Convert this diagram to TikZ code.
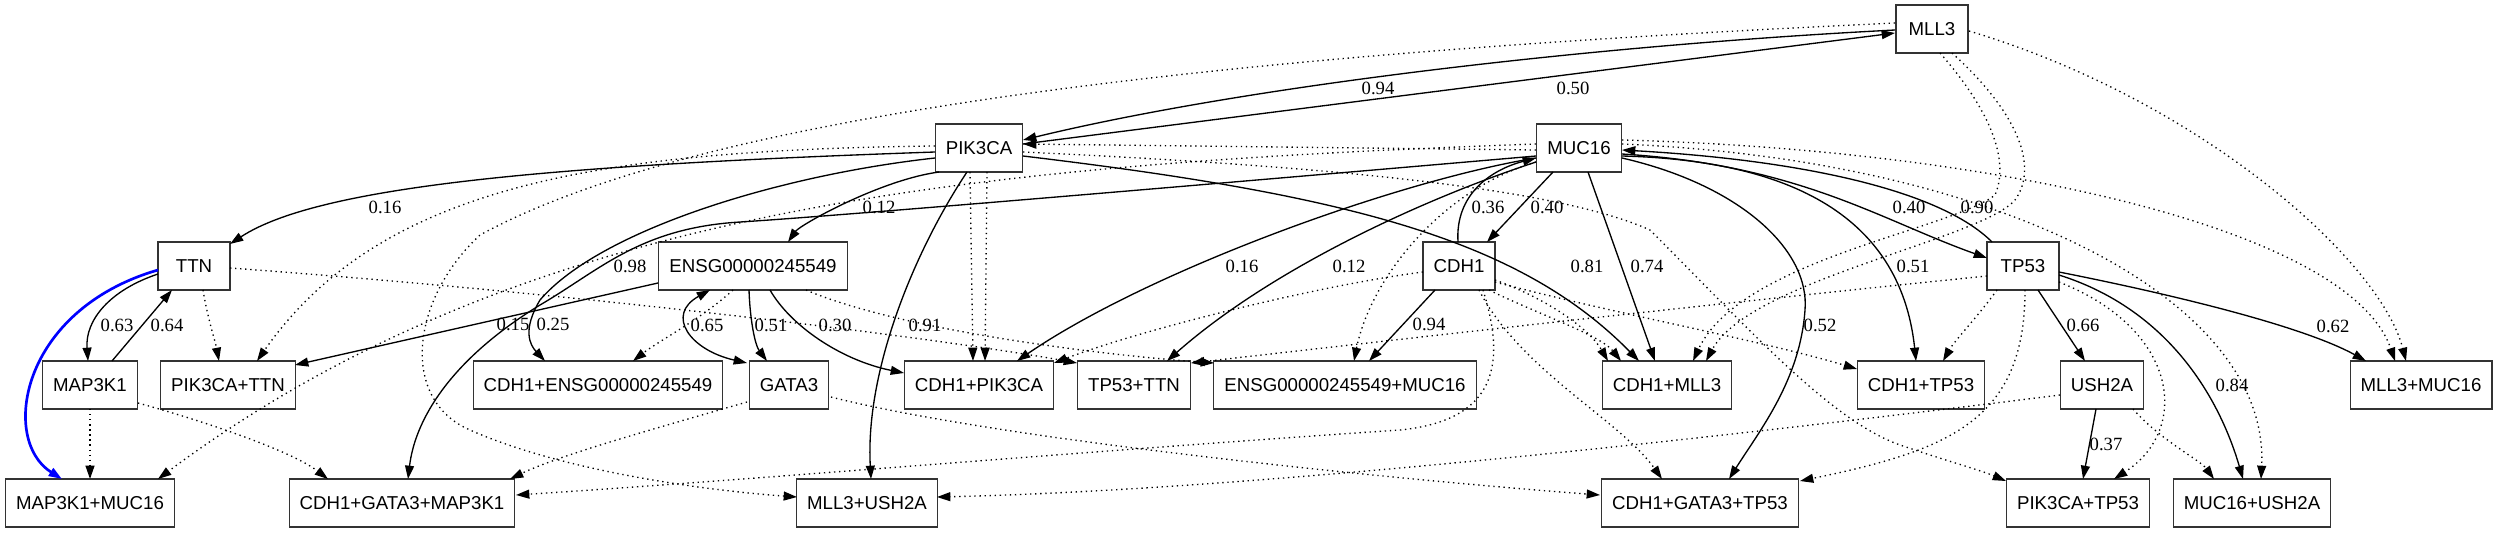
\documentclass[tikz,border=0pt]{standalone}
\usepackage{fontspec}
\setmainfont{Liberation Serif}
\newfontfamily\genefont{Liberation Sans}
\usetikzlibrary{arrows.meta,calc}

\begin{document}
\begin{tikzpicture}[x=0.75pt,y=-0.75pt,line width=1pt,>={Triangle[length=10pt,width=6.7pt]},
    gene/.style={draw=black!80,rectangle,line width=0.8pt,font=\fontsize{14}{16}\genefont,minimum height=36pt,minimum width=54pt,inner xsep=7.9pt,inner ysep=2pt},
    lbl/.style={font=\fontsize{14}{16}\selectfont,inner sep=0pt},
    dep/.style={dash pattern=on 1pt off 2.8pt}]
        \useasboundingbox (0,0) rectangle (2497,532);
        \node[gene] (mll3) at (1932,29) {MLL3};
        \node[gene] (pik3ca) at (979,148) {PIK3CA};
        \node[gene] (muc16) at (1579,148) {MUC16};
        \node[gene] (ttn) at (194,266) {TTN};
        \node[gene] (ensg) at (753,266) {ENSG00000245549};
        \node[gene] (cdh1) at (1459,266) {CDH1};
        \node[gene] (tp53) at (2023,266) {TP53};
        \node[gene] (map3k1) at (90,385) {MAP3K1};
        \node[gene] (pik3ca_ttn) at (228,385) {PIK3CA+TTN};
        \node[gene] (cdh1_ensg) at (598,385) {CDH1+ENSG00000245549};
        \node[gene] (gata3) at (789,385) {GATA3};
        \node[gene] (cdh1_pik3ca) at (979,385) {CDH1+PIK3CA};
        \node[gene] (tp53_ttn) at (1134,385) {TP53+TTN};
        \node[gene] (ensg_muc16) at (1345,385) {ENSG00000245549+MUC16};
        \node[gene] (cdh1_mll3) at (1667,385) {CDH1+MLL3};
        \node[gene] (cdh1_tp53) at (1921,385) {CDH1+TP53};
        \node[gene] (ush2a) at (2102,385) {USH2A};
        \node[gene] (mll3_muc16) at (2421,385) {MLL3+MUC16};
        \node[gene] (map3k1_muc16) at (90,503) {MAP3K1+MUC16};
        \node[gene] (cdh1_gata3_map3k1) at (402,503) {CDH1+GATA3+MAP3K1};
        \node[gene] (mll3_ush2a) at (867,503) {MLL3+USH2A};
        \node[gene] (cdh1_gata3_tp53) at (1700,503) {CDH1+GATA3+TP53};
        \node[gene] (pik3ca_tp53) at (2078,503) {PIK3CA+TP53};
        \node[gene] (muc16_ush2a) at (2252,503) {MUC16+USH2A};
        % weighted links
        \draw[->] ($(mll3)+(-37,1)$) .. controls (1600,45) and (1250,85) .. ($(pik3ca)+(44,-8)$) node[lbl] (w_mll3_pik3ca) at (1378,88) {0.94};
        \draw[->] ($(pik3ca)+(44,-4)$) -- ($(mll3)+(-37,4)$) node[lbl] (w_pik3ca_mll3) at (1573,88) {0.50};
        \draw[->] ($(pik3ca)+(-44,4)$) .. controls (560,165) and (320,185) .. ($(ttn)+(36,-22)$) node[lbl] (w_pik3ca_ttn) at (385,207) {0.16};
        \draw[->] ($(pik3ca)+(-40,24)$) .. controls (880,180) and (800,225) .. ($(ensg)+(35,-24)$) node[lbl] (w_pik3ca_ensg) at (879,207) {0.12};
        \draw[->] ($(pik3ca)+(-12,24)$) .. controls (915,250) and (865,370) .. ($(mll3_ush2a)+(4,-24)$) node[lbl] (w_pik3ca_mll3_ush2a) at (925,325) {0.91};
        \draw[->] ($(pik3ca)+(44,8)$) .. controls (1350,195) and (1520,240) .. ($(cdh1_mll3)+(-28,-24)$) node[lbl] (w_pik3ca_cdh1_mll3) at (1587,266) {0.81};
        \draw[->] ($(pik3ca)+(-44,10)$) .. controls (780,175) and (600,230) .. (540,300) .. controls (522,330) and (530,345) .. ($(cdh1_ensg)+(-53,-24)$) node[lbl] (w_pik3ca_cdh1_ensg) at (553,324) {0.25};
        \draw[->] ($(muc16)+(-43,8)$) .. controls (1200,185) and (850,215) .. (740,222) .. controls (640,228) and (600,270) .. (540,305) .. controls (450,360) and (415,420) .. ($(cdh1_gata3_map3k1)+(6,-24)$) node[lbl] (w_muc16_cdh1_gata3_map3k1) at (630,266) {0.98};
        \draw[->] ($(ensg)+(-95,17)$) -- ($(pik3ca_ttn)+(67,-20)$) node[lbl] (w_ensg_pik3ca_ttn) at (513,324) {0.15};
        \draw[->] ($(ttn)+(-36,8)$) .. controls (110,290) and (85,320) .. ($(map3k1)+(-2,-24)$) node[lbl] (w_ttn_map3k1) at (117,325) {0.63};
        \draw[->] ($(map3k1)+(22,-24)$) -- ($(ttn)+(-22,24)$) node[lbl] (w_map3k1_ttn) at (167,325) {0.64};
        \draw[->,draw=blue,line width=2pt] ($(ttn)+(-36,4)$) .. controls (20,310) and (0,440) .. ($(map3k1_muc16)+(-28,-24)$);
        \draw[<->] ($(ensg)+(-43,24)$) .. controls (665,315) and (690,350) .. ($(gata3)+(-42,-22)$) node[lbl] (w_ensg_gata3) at (707,325) {0.65};
        \draw[->] ($(ensg)+(-4,24)$) .. controls (750,320) and (755,345) .. ($(gata3)+(-22,-24)$) node[lbl] (w_ensg_gata3_b) at (771,325) {0.51};
        \draw[->] ($(ensg)+(17,24)$) .. controls (790,325) and (840,360) .. ($(cdh1_pik3ca)+(-75,-12)$) node[lbl] (w_ensg_cdh1_pik3ca) at (835,325) {0.30};
        \draw[->] ($(muc16)+(-43,10)$) .. controls (1400,180) and (1150,270) .. ($(cdh1_pik3ca)+(38,-24)$) node[lbl] (w_muc16_cdh1_pik3ca) at (1242,266) {0.16};
        \draw[->] ($(muc16)+(-43,14)$) .. controls (1420,200) and (1270,270) .. ($(tp53_ttn)+(33,-24)$) node[lbl] (w_muc16_tp53_ttn) at (1349,266) {0.12};
        \draw[->] ($(cdh1)+(-1,-24)$) .. controls (1455,195) and (1490,170) .. ($(muc16)+(-43,10)$) node[lbl] (w_cdh1_muc16) at (1488,207) {0.36};
        \draw[->] ($(muc16)+(-26,24)$) -- ($(cdh1)+(28,-24)$) node[lbl] (w_muc16_cdh1) at (1547,207) {0.40};
        \draw[->] ($(muc16)+(9,24)$) -- ($(cdh1_mll3)+(-12,-24)$) node[lbl] (w_muc16_cdh1_mll3) at (1647,266) {0.74};
        \draw[->] ($(cdh1)+(-24,24)$) -- ($(ensg_muc16)+(24,-24)$) node[lbl] (w_cdh1_ensg_muc16) at (1429,324) {0.94};
        \draw[->] ($(muc16)+(43,10)$) .. controls (1740,185) and (1810,250) .. (1805,310) .. controls (1800,380) and (1760,430) .. ($(cdh1_gata3_tp53)+(29,-24)$) node[lbl] (w_muc16_cdh1_gata3_tp53) at (1820,325) {0.52};
        \draw[->] ($(muc16)+(43,8)$) .. controls (1780,160) and (1900,210) .. ($(cdh1_tp53)+(-5,-24)$) node[lbl] (w_muc16_cdh1_tp53) at (1913,266) {0.51};
        \draw[->] ($(muc16)+(43,6)$) .. controls (1800,165) and (1880,220) .. ($(tp53)+(-36,-8)$) node[lbl] (w_muc16_tp53) at (1909,207) {0.40};
        \draw[->] ($(tp53)+(-31,-24)$) .. controls (1940,190) and (1800,160) .. ($(muc16)+(43,2)$) node[lbl] (w_tp53_muc16) at (1977,207) {0.90};
        \draw[->] ($(tp53)+(15,24)$) -- ($(ush2a)+(-17,-24)$) node[lbl] (w_tp53_ush2a) at (2083,325) {0.66};
        \draw[->] ($(tp53)+(36,6)$) .. controls (2200,300) and (2310,330) .. ($(mll3_muc16)+(-55,-24)$) node[lbl] (w_tp53_mll3_muc16) at (2333,326) {0.62};
        \draw[->] ($(tp53)+(36,9)$) .. controls (2170,310) and (2220,400) .. ($(muc16_ush2a)+(-9,-24)$) node[lbl] (w_tp53_muc16_ush2a) at (2232,385) {0.84};
        \draw[->] ($(ush2a)+(-6,24)$) -- ($(pik3ca_tp53)+(5,-24)$) node[lbl] (w_ush2a_pik3ca_tp53) at (2106,444) {0.37};
        % membership links
        \draw[->,dep] ($(ttn)+(9,24)$) .. controls (208,320) and (215,340) .. ($(pik3ca_ttn)+(-9,-24)$);
        \draw[->,dep] ($(pik3ca)+(-44,-2)$) .. controls (600,150) and (380,185) .. ($(pik3ca_ttn)+(29,-24)$);
        \draw[->,dep] ($(map3k1)+(0,24)$) -- ($(map3k1_muc16)+(0,-24)$);
        \draw[->,dep] ($(muc16)+(-43,-4)$) .. controls (950,165) and (520,210) .. ($(map3k1_muc16)+(68,-24)$);
        \draw[->,dep] ($(map3k1)+(48,18)$) .. controls (200,420) and (290,450) .. ($(cdh1_gata3_map3k1)+(-74,-24)$);
        \draw[->,dep] ($(gata3)+(-42,17)$) .. controls (650,430) and (560,455) .. ($(cdh1_gata3_map3k1)+(108,-24)$);
        \draw[->,dep] ($(cdh1)+(24,24)$) .. controls (1505,360) and (1500,420) .. (1400,430) .. controls (1100,450) and (750,480) .. ($(cdh1_gata3_map3k1)+(114,-8)$);
        \draw[->,dep] ($(mll3)+(-37,-6)$) .. controls (1200,55) and (700,115) .. (480,235) .. controls (410,300) and (400,400) .. (470,430) .. controls (560,470) and (700,490) .. ($(mll3_ush2a)+(-70,-6)$);
        \draw[->,dep] ($(ush2a)+(-42,10)$) .. controls (1700,440) and (1250,490) .. ($(mll3_ush2a)+(70,-6)$);
        \draw[->,dep] ($(pik3ca)+(-9,24)$) -- ($(cdh1_pik3ca)+(-6,-24)$);
        \draw[->,dep] ($(pik3ca)+(8,24)$) -- ($(cdh1_pik3ca)+(6,-24)$);
        \draw[->,dep] ($(cdh1)+(-36,6)$) .. controls (1320,285) and (1140,330) .. ($(cdh1_pik3ca)+(75,-22)$);
        \draw[->,dep] ($(ttn)+(36,2)$) .. controls (600,295) and (950,340) .. ($(tp53_ttn)+(-57,-22)$);
        \draw[->,dep] ($(tp53)+(-36,10)$) .. controls (1700,305) and (1350,345) .. ($(tp53_ttn)+(57,-22)$);
        \draw[->,dep] ($(ensg)+(53,24)$) .. controls (900,330) and (1100,355) .. ($(ensg_muc16)+(-131,-22)$);
        \draw[->,dep] ($(muc16)+(-43,14)$) .. controls (1440,190) and (1370,280) .. ($(ensg_muc16)+(9,-24)$);
        \draw[->,dep] ($(ensg)+(-20,24)$) .. controls (700,320) and (660,340) .. ($(cdh1_ensg)+(35,-24)$);
        \draw[->,dep] ($(cdh1)+(36,14)$) .. controls (1550,300) and (1590,330) .. ($(cdh1_mll3)+(-59,-24)$);
        \draw[->,dep] ($(cdh1)+(30,24)$) .. controls (1540,315) and (1600,335) .. ($(cdh1_mll3)+(-46,-24)$);
        \draw[->,dep] ($(mll3)+(8,24)$) .. controls (1990,110) and (2010,160) .. (1995,195) .. controls (1950,230) and (1740,260) .. ($(cdh1_mll3)+(26,-24)$);
        \draw[->,dep] ($(mll3)+(20,24)$) .. controls (2015,110) and (2040,165) .. (2015,200) .. controls (1980,240) and (1750,280) .. ($(cdh1_mll3)+(39,-24)$);
        \draw[->,dep] ($(cdh1)+(36,16)$) .. controls (1620,315) and (1760,340) .. ($(cdh1_tp53)+(-64,-16)$);
        \draw[->,dep] ($(tp53)+(-26,24)$) .. controls (1975,320) and (1955,340) .. ($(cdh1_tp53)+(22,-24)$);
        \draw[->,dep] ($(tp53)+(2,24)$) .. controls (2025,420) and (1950,450) .. ($(cdh1_gata3_tp53)+(100,-22)$);
        \draw[->,dep] ($(gata3)+(42,12)$) .. controls (1000,440) and (1400,480) .. ($(cdh1_gata3_tp53)+(-100,-8)$);
        \draw[->,dep] ($(cdh1)+(20,24)$) .. controls (1520,370) and (1620,420) .. ($(cdh1_gata3_tp53)+(-38,-24)$);
        \draw[->,dep] ($(pik3ca)+(44,4)$) .. controls (1300,165) and (1550,185) .. (1650,230) .. controls (1750,330) and (1830,420) .. (1900,445) .. controls (1950,462) and (1980,470) .. ($(pik3ca_tp53)+(-72,-22)$);
        \draw[->,dep] ($(tp53)+(36,16)$) .. controls (2180,330) and (2190,430) .. ($(pik3ca_tp53)+(36,-24)$);
        \draw[->,dep] ($(muc16)+(43,-4)$) .. controls (2000,160) and (2270,300) .. ($(muc16_ush2a)+(9,-24)$);
        \draw[->,dep] ($(ush2a)+(31,24)$) .. controls (2160,440) and (2200,460) .. ($(muc16_ush2a)+(-38,-24)$);
        \draw[->,dep] ($(mll3)+(37,2)$) .. controls (2200,100) and (2380,260) .. ($(mll3_muc16)+(-15,-24)$);
        \draw[->,dep] ($(muc16)+(43,-8)$) .. controls (2000,150) and (2350,230) .. ($(mll3_muc16)+(-26,-24)$);
        \draw[->,dep] ($(muc16)+(-43,2)$) -- ($(pik3ca)+(44,-4)$);
\end{tikzpicture}
\end{document}
